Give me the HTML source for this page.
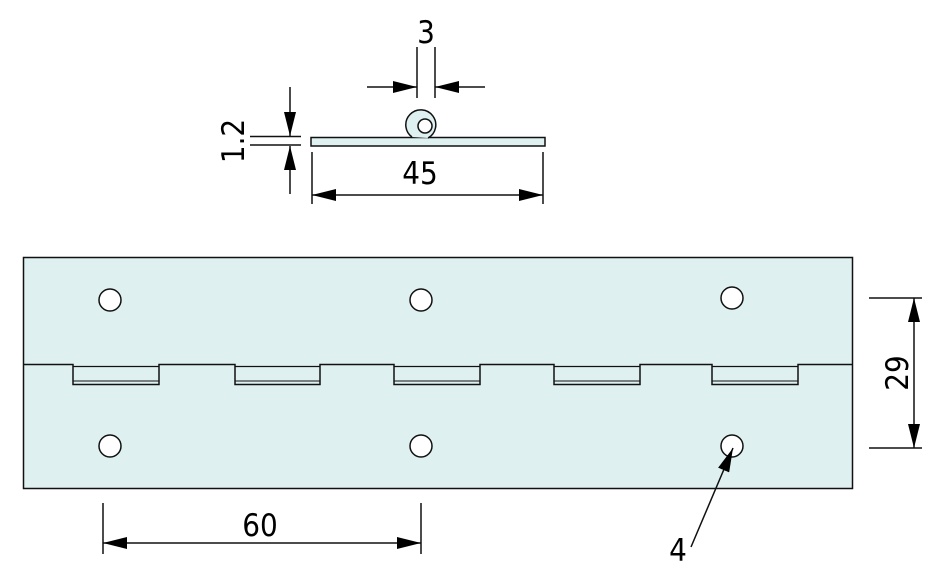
<!DOCTYPE html>
<html><head><style>body{margin:0;background:#fff}svg{display:block}</style></head><body>
<svg width="932" height="586" viewBox="0 0 932 586" xmlns="http://www.w3.org/2000/svg" font-family="'DejaVu Sans Condensed','Liberation Sans',sans-serif">
<defs><marker id="a" viewBox="0 0 24 12" refX="24" refY="6" markerWidth="24" markerHeight="12" markerUnits="userSpaceOnUse" orient="auto-start-reverse"><path d="M0,0L24,6L0,12z" fill="#000"/></marker></defs>
<g stroke="#111" stroke-width="1.5" fill="none">
<rect x="311" y="137.5" width="234" height="8.5" fill="#dff0f0"/>
<path d="M412,137 A15,15 0 1 1 428,138" fill="#dff0f0" stroke-width="1.5"/>
<circle cx="425" cy="126" r="7" fill="#fff"/>
<line x1="417" y1="47" x2="417" y2="98"/><line x1="435" y1="47" x2="435" y2="98"/>
<line x1="367" y1="87" x2="417" y2="87" marker-end="url(#a)"/>
<line x1="485" y1="87" x2="435" y2="87" marker-end="url(#a)"/>
<line x1="250" y1="136.5" x2="301" y2="136.5"/><line x1="250" y1="145" x2="301" y2="145"/>
<line x1="290" y1="87" x2="290" y2="136" marker-end="url(#a)"/>
<line x1="290" y1="194" x2="290" y2="146" marker-end="url(#a)"/>
<line x1="312" y1="152" x2="312" y2="204"/><line x1="543" y1="152" x2="543" y2="204"/>
<line x1="312" y1="195" x2="543" y2="195" marker-start="url(#a)" marker-end="url(#a)"/>
<rect x="23.5" y="257.5" width="829" height="231" fill="#dff0f0"/>
<path d="M23,364.5H73V384.5H159V364.5H235V384.5H320V364.5H394V384.5H480V364.5H554V384.5H640V364.5H712V384.5H798V364.5H853"/>
<path d="M73,381H159M235,381H320M394,381H480M554,381H640M712,381H798" stroke-width="1"/>
<path d="M73,366.5H159M235,366.5H320M394,366.5H480M554,366.5H640M712,366.5H798" stroke-width="1.2"/>
<g fill="#fff"><circle cx="110" cy="300" r="11"/><circle cx="421" cy="300" r="11"/><circle cx="732" cy="298" r="11"/>
<circle cx="110" cy="446" r="11"/><circle cx="421" cy="446" r="11"/><circle cx="732" cy="446" r="11"/></g>
<line x1="869" y1="298" x2="922" y2="298"/><line x1="869" y1="448" x2="922" y2="448"/>
<line x1="914" y1="373" x2="914" y2="298" marker-end="url(#a)"/>
<line x1="914" y1="373" x2="914" y2="448" marker-end="url(#a)"/>
<line x1="103" y1="503" x2="103" y2="554"/><line x1="421" y1="503" x2="421" y2="554"/>
<line x1="103" y1="543" x2="421" y2="543" marker-start="url(#a)" marker-end="url(#a)"/>
<line x1="691" y1="547" x2="733" y2="448" marker-end="url(#a)"/>
</g>
<g font-size="31" fill="#000" text-anchor="middle">
<text x="426" y="43">3</text>
<text x="420" y="184">45</text>
<text x="260" y="536">60</text>
<text x="678" y="561">4</text>
<text transform="translate(244,141) rotate(-90)">1.2</text>
<text transform="translate(908,373) rotate(-90)">29</text>
</g>
</svg>
</body></html>
